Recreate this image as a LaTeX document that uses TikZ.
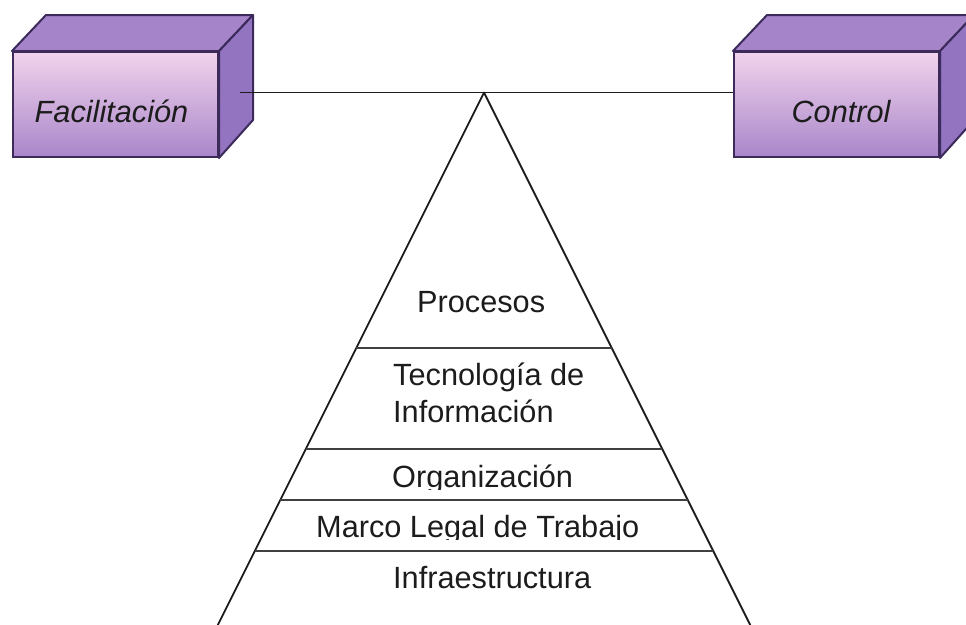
\documentclass[tikz,border=0pt]{standalone}
\usepackage{fontspec}
\setmainfont{Liberation Sans}
\usetikzlibrary{calc}

\definecolor{boxline}{HTML}{3B2A5A}
\definecolor{boxtop}{HTML}{A684C9}
\definecolor{boxside}{HTML}{9274C0}
\definecolor{facelight}{HTML}{F1D3EC}
\definecolor{facemid}{HTML}{B38DD0}
\definecolor{facedark}{HTML}{A986CA}
\definecolor{ink}{HTML}{1C1C1C}

\tikzset{
  txt/.style={font=\fontsize{30.7}{37}\selectfont, text=ink, inner sep=0pt},
  boxlabel/.style={txt, font=\fontsize{30.7}{37}\selectfont\itshape},
  front/.style={draw=boxline, line width=2pt, minimum width=205pt,
    minimum height=105pt, inner sep=0pt,
    top color=facelight, middle color=facemid, bottom color=facedark},
  topface/.style={draw=boxline, line width=2pt, fill=boxtop, line join=round},
  sideface/.style={draw=boxline, line width=2pt, fill=boxside, line join=round},
  conn/.style={draw=ink, line width=1.7pt},
  pyr/.style={draw=ink, line width=1.8pt},
  tier/.style={draw=black!75, line width=1.8pt},
}

% depth faces of a box, drawn from the front face node
\newcommand\cubefaces[1]{%
  \filldraw[topface] (#1.north west) -- ++(34,-36) -- ($(#1.north east)+(34,-36)$)
    -- (#1.north east) -- cycle;
  \filldraw[sideface] (#1.north east) -- ++(34,-36) -- ++(0,105)
    -- (#1.south east) -- cycle;
}

\begin{document}
\begin{tikzpicture}[x=1pt, y=-1pt]
  \useasboundingbox (0,0) rectangle (966,624);

  % the two boxes
  \node[front] (fac) at (115.5,104.5) {};
  \cubefaces{fac}
  \node[boxlabel, anchor=base] (facl) at (111.5,122) {Facilitación};

  \node[front] (ctl) at (836.5,104.5) {};
  \cubefaces{ctl}
  \node[boxlabel, anchor=base] (ctll) at (841,122) {Control};

  % pyramid
  \coordinate (apex) at (484,92.5);
  \coordinate (bl) at (217.75,625);
  \coordinate (br) at (750.25,625);
  \coordinate (fjoin) at ([xshift=21pt]fac.east);

  \draw[conn] (fjoin |- apex) -- (ctl.west |- apex);
  \draw[pyr, line join=round] (bl) -- (apex) -- (br);
  \draw[draw=black!45, line width=1pt] (bl) -- (br);

  \foreach \y/\n in {348/a, 449/b, 500/c, 551/d}{
    \coordinate (l\n) at ($(apex)!{(\y-92.5)/532.5}!(bl)$);
    \coordinate (r\n) at ($(apex)!{(\y-92.5)/532.5}!(br)$);
    \draw[tier] (l\n) -- (r\n);
  }

  % tier labels
  \node[txt, anchor=base west] (proc) at (417,312) {Procesos};
  \node[txt, anchor=base west, align=left] (tec) at (393,422)
    {Tecnología de\\Información};
  \begin{scope}
    \clip (0,0) rectangle (966,489);
    \node[txt, anchor=base west] (org) at (392,487) {Organización};
  \end{scope}
  \begin{scope}
    \clip (0,0) rectangle (966,539);
    \node[txt, anchor=base west] (marco) at (316,537) {Marco Legal de Trabajo};
  \end{scope}
  \node[txt, anchor=base west] (infra) at (393,588) {Infraestructura};
\end{tikzpicture}
\end{document}
